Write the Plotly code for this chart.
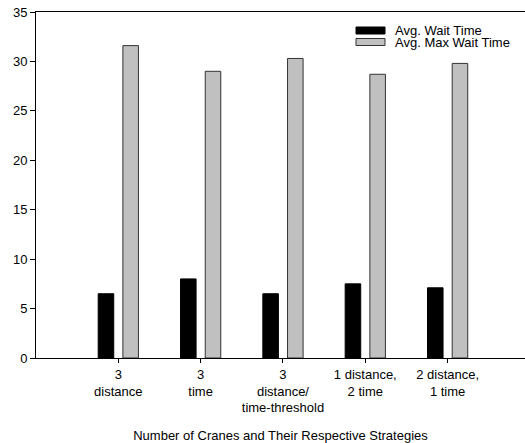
import plotly.graph_objects as go

categories = ["3<br>distance", "3<br>time", "3<br>distance/<br>time-threshold",
              "1 distance,<br>2 time", "2 distance,<br>1 time"]
avg_wait = [6.5, 8.0, 6.5, 7.5, 7.1]
avg_max_wait = [31.6, 29.0, 30.3, 28.7, 29.8]
series_names = ["Avg. Wait Time", "Avg. Max Wait Time"]
y_ticks = [0, 5, 10, 15, 20, 25, 30, 35]

FONT = "Liberation Sans, Arial, sans-serif"
W, H = 525, 443
ML, MR, MT, MB = 36, 0, 12, 85

fig = go.Figure()
fig.add_trace(go.Bar(x=list(range(len(categories))), y=avg_wait, name=series_names[0],
                     marker=dict(color="#000000", line=dict(color="#000000", width=1)),
                     showlegend=False))
fig.add_trace(go.Bar(x=list(range(len(categories))), y=avg_max_wait, name=series_names[1],
                     marker=dict(color="#c0c0c0", line=dict(color="#333333", width=1)),
                     showlegend=False))

fig.update_layout(
    width=W, height=H,
    margin=dict(l=ML, r=MR, t=MT, b=MB, autoexpand=False),
    paper_bgcolor="white", plot_bgcolor="white",
    barmode="group", bargap=0.4, bargroupgap=0.37,
    font=dict(family=FONT, size=13, color="#000000"),
)
fig.update_xaxes(
    range=[-1.0, 4.94], tickmode="array",
    tickvals=list(range(len(categories))), ticktext=categories,
    ticks="outside", ticklen=4, tickcolor="#000000", tickwidth=1,
    showline=True, linecolor="#000000", linewidth=1, mirror=True,
    showgrid=False, zeroline=False, automargin=False,
    tickfont=dict(size=13),
    title=dict(text="Number of Cranes and Their Respective Strategies",
               font=dict(size=13), standoff=18),
)
fig.update_yaxes(
    range=[0, 35], tickmode="array", tickvals=y_ticks,
    ticks="outside", ticklen=5, tickcolor="#000000", tickwidth=1,
    showline=True, linecolor="#000000", linewidth=1, mirror=False,
    showgrid=False, zeroline=False, automargin=False,
    tickfont=dict(size=13), ticklabeloverflow="allow",
)

# Custom legend (positions given in page pixels, converted to paper coords)
pw = W - ML - MR
ph = H - MT - MB
def px_x(x):
    return (x - ML) / pw
def px_y(y):
    return 1 - (y - MT) / ph

legend_items = [(series_names[0], "#000000", "#000000", 27, 34),
                (series_names[1], "#c0c0c0", "#333333", 38.5, 45.5)]
for name, fill, line, y0, y1 in legend_items:
    fig.add_shape(type="rect", xref="paper", yref="paper",
                  x0=px_x(356), x1=px_x(385), y0=px_y(y1), y1=px_y(y0),
                  fillcolor=fill, line=dict(color=line, width=1))
    fig.add_annotation(xref="paper", yref="paper", x=px_x(393), y=px_y((y0 + y1) / 2),
                       text=name, showarrow=False, xanchor="left", yanchor="middle",
                       font=dict(size=13, family=FONT, color="#000000"))

fig.write_html("out.html", config={"displayModeBar": False},
               post_script="document.body.style.margin='0';document.body.style.overflow='hidden';")
